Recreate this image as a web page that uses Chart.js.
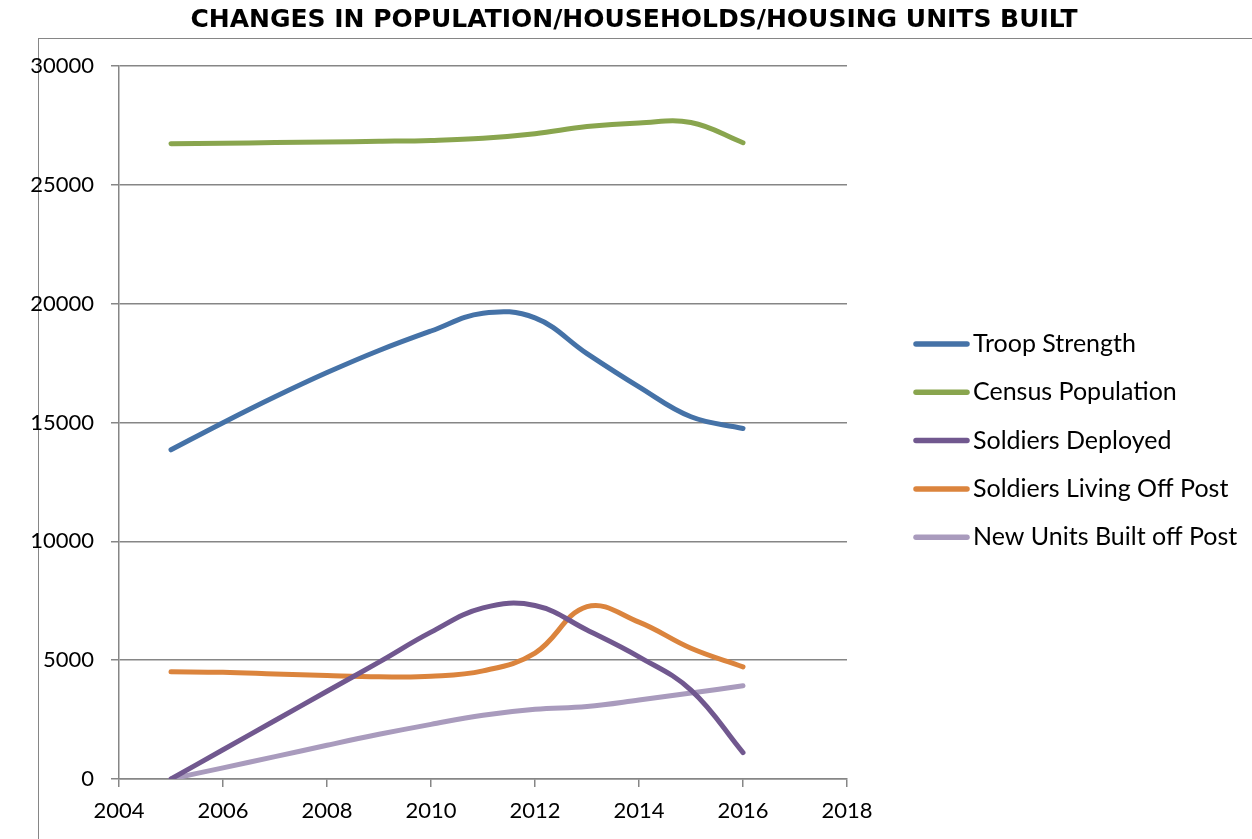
<html lang="en">
<head>
    <meta charset="UTF-8">
    <title>Changes in Population/Households/Housing Units Built</title>
    <script src="https://cdn.jsdelivr.net/npm/chart.js"></script>
    <style>
        body {
            margin: 0;
            padding: 0;
            background-color: #ffffff;
        }
        #wrap {
            width: 1252px;
            height: 839px;
        }
    </style>
</head>
<body>
    <div id="wrap"><canvas id="popChart" width="1252" height="839"></canvas></div>

    <script>
        // values
        const years = [2005, 2006, 2007, 2008, 2009, 2010, 2011, 2012, 2013, 2014, 2015, 2016];
        const troopStrength = [13850, 14990, 16080, 17100, 18030, 18850, 19600, 19400, 17900, 16500, 15240, 14750];
        const censusPopulation = [26730, 26750, 26780, 26800, 26830, 26870, 26960, 27150, 27450, 27600, 27620, 26770];
        const soldiersDeployed = [0, 1230, 2460, 3690, 4920, 6180, 7200, 7300, 6270, 5140, 3740, 1110];
        const soldiersOffPost = [4510, 4490, 4420, 4350, 4300, 4320, 4550, 5300, 7250, 6600, 5500, 4720];
        const newUnitsOffPost = [0, 470, 940, 1420, 1880, 2300, 2680, 2930, 3050, 3320, 3620, 3920];

        const seriesNames = ['Troop Strength', 'Census Population', 'Soldiers Deployed', 'Soldiers Living Off Post', 'New Units Built off Post'];
        const seriesColors = ['#4572a7', '#89a54e', '#71588f', '#db843d', '#a99bbd'];
        const seriesValues = [troopStrength, censusPopulation, soldiersDeployed, soldiersOffPost, newUnitsOffPost];

        const gridColor = '#868686';
        const labelFont = "Lato, 'Liberation Sans', sans-serif";

        function toPoints(vals) {
            return years.map((yr, i) => ({ x: yr, y: vals[i] }));
        }

        // border, title and legend drawn by hand to match the original layout
        const frame = {
            id: 'frame',
            beforeDraw(chart) {
                const ctx = chart.ctx;
                ctx.save();
                ctx.fillStyle = '#ffffff';
                ctx.fillRect(0, 0, chart.width, chart.height);
                ctx.strokeStyle = gridColor;
                ctx.lineWidth = 1;
                ctx.strokeRect(38.5, 38.5, 1400, 1000);
                ctx.restore();
            },
            afterDraw(chart) {
                const ctx = chart.ctx;
                ctx.save();
                ctx.fillStyle = '#000000';
                ctx.font = "bold 25px 'DejaVu Sans', Verdana, sans-serif";
                ctx.textAlign = 'center';
                ctx.textBaseline = 'middle';
                ctx.fillText('CHANGES IN POPULATION/HOUSEHOLDS/HOUSING UNITS BUILT', 634, 20);

                ctx.font = '25px ' + labelFont;
                ctx.textAlign = 'left';
                chart.data.datasets.forEach((ds, i) => {
                    const y = 344 + i * 48.3;
                    ctx.strokeStyle = ds.borderColor;
                    ctx.lineWidth = 5.5;
                    ctx.lineCap = 'round';
                    ctx.beginPath();
                    ctx.moveTo(916, y);
                    ctx.lineTo(967, y);
                    ctx.stroke();
                    ctx.fillStyle = '#000000';
                    ctx.fillText(ds.label, 973, y);
                });
                ctx.restore();
            }
        };

        const ctx = document.getElementById('popChart').getContext('2d');
        new Chart(ctx, {
            type: 'line',
            data: {
                datasets: seriesNames.map((name, i) => ({
                    label: name,
                    data: toPoints(seriesValues[i]),
                    borderColor: seriesColors[i],
                    backgroundColor: seriesColors[i],
                    borderWidth: 5,
                    borderCapStyle: 'round',
                    pointRadius: 0,
                    tension: 0.4,
                    fill: false
                }))
            },
            options: {
                responsive: false,
                animation: false,
                layout: {
                    padding: { top: 66, right: 405, bottom: 0, left: 0 }
                },
                plugins: {
                    legend: { display: false },
                    title: { display: false },
                    tooltip: { enabled: false }
                },
                scales: {
                    x: {
                        type: 'linear',
                        min: 2004,
                        max: 2018,
                        ticks: {
                            stepSize: 2,
                            color: '#000000',
                            font: { family: labelFont, size: 22 },
                            padding: 11,
                            maxRotation: 0,
                            callback: v => String(v)
                        },
                        grid: {
                            drawOnChartArea: false,
                            drawTicks: true,
                            tickLength: 8,
                            color: gridColor,
                            lineWidth: 1.5
                        },
                        border: { color: gridColor, width: 1.5 },
                        afterFit(scale) { scale.height = 60; }
                    },
                    y: {
                        min: 0,
                        max: 30000,
                        ticks: {
                            stepSize: 5000,
                            color: '#000000',
                            font: { family: labelFont, size: 22 },
                            padding: 17,
                            callback: v => String(v)
                        },
                        grid: {
                            color: gridColor,
                            lineWidth: 1.5,
                            tickLength: 8
                        },
                        border: { color: gridColor, width: 1.5 },
                        afterFit(scale) { scale.width = 119; }
                    }
                }
            },
            plugins: [frame]
        });
    </script>
</body>
</html>
